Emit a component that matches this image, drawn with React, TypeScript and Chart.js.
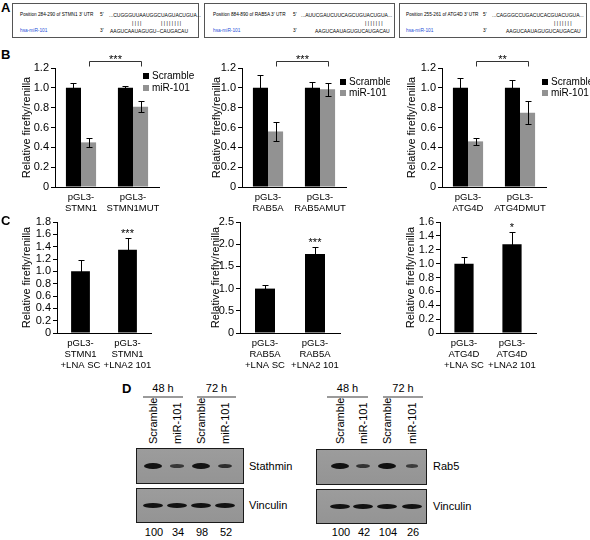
import React, { useEffect, useRef } from 'react';
import { Chart, registerables } from 'chart.js';

Chart.register(...registerables);

const FONT = '"Liberation Sans", Arial, Helvetica, sans-serif';

// ---------- Panel B: reporter assays, Scramble vs miR-101 ----------
const seriesNames = ['Scramble', 'miR-101'];
const seriesColors = ['#000000', '#929292'];

const stmn1Labels = [['pGL3-', 'STMN1'], ['pGL3-', 'STMN1MUT']];
const stmn1Scramble = [1.0, 1.0];
const stmn1ScrambleErr = [0.05, 0.015];
const stmn1Mir = [0.45, 0.81];
const stmn1MirErr = [0.045, 0.055];
const stmn1Sig = '***';

const rab5aLabels = [['pGL3-', 'RAB5A'], ['pGL3-', 'RAB5AMUT']];
const rab5aScramble = [1.0, 1.0];
const rab5aScrambleErr = [0.13, 0.06];
const rab5aMir = [0.56, 0.985];
const rab5aMirErr = [0.10, 0.065];
const rab5aSig = '***';

const atg4dLabels = [['pGL3-', 'ATG4D'], ['pGL3-', 'ATG4DMUT']];
const atg4dScramble = [1.0, 1.0];
const atg4dScrambleErr = [0.10, 0.075];
const atg4dMir = [0.46, 0.75];
const atg4dMirErr = [0.035, 0.115];
const atg4dSig = '**';

const yMaxB = 1.2;
const yStepB = 0.2;

// ---------- Panel C: LNA assays ----------
const stmn1LnaLabels = [['pGL3-', 'STMN1', '+LNA SC'], ['pGL3-', 'STMN1', '+LNA2 101']];
const stmn1Lna = [1.0, 1.35];
const stmn1LnaErr = [0.18, 0.19];
const stmn1LnaSig = '***';
const stmn1LnaMax = 1.8;
const stmn1LnaStep = 0.2;

const rab5aLnaLabels = [['pGL3-', 'RAB5A', '+LNA SC'], ['pGL3-', 'RAB5A', '+LNA2 101']];
const rab5aLna = [1.0, 1.78];
const rab5aLnaErr = [0.08, 0.16];
const rab5aLnaSig = '***';
const rab5aLnaMax = 2.5;
const rab5aLnaStep = 0.5;

const atg4dLnaLabels = [['pGL3-', 'ATG4D', '+LNA SC'], ['pGL3-', 'ATG4D', '+LNA2 101']];
const atg4dLna = [1.0, 1.28];
const atg4dLnaErr = [0.09, 0.18];
const atg4dLnaSig = '*';
const atg4dLnaMax = 1.6;
const atg4dLnaStep = 0.2;

const yTitle = 'Relative firefly/renilla';

// ---------- Panel D: western blots ----------
const laneTimes = ['48 h', '72 h'];
const laneNames = ['Scramble', 'miR-101', 'Scramble', 'miR-101'];
const stathminLevels = [100, 34, 98, 52];
const rab5Levels = [100, 42, 104, 26];

// ---------- Panel A: binding sites ----------
const siteBoxes = [
  {
    title: 'Position 284-290 of STMN1 3\u2032 UTR',
    target: '...CUGGGUUAAUGGCUAGUACUGUA...',
    pairs: [['||||', 120], ['||||||||', 149]],
    mir: 'AAGUCAAUAGUGU--CAUGACAU',
  },
  {
    title: 'Position 884-890 of RAB5A 3\u2032 UTR',
    target: '...AUUCGAUCUUCAGCUGUACUGUA...',
    pairs: [['|||||||', 161]],
    mir: 'AAGUCAAUAGUGUCAUGACAU',
  },
  {
    title: 'Position 255-261 of ATG4D 3\u2032 UTR',
    target: '...CAGGGCCUGACUCACGUACUGUA...',
    pairs: [['|||||||', 155]],
    mir: 'AAGUCAAUAGUGUCAUGACAU',
  },
];
const mirName = 'hsa-miR-101';

type Rect = { left: number; top: number; width: number; height: number };
type Area = { left: number; top: number; right: number; bottom: number };

type Spec = {
  canvas: Rect;
  area: Area;
  padL: number;
  labels: string[][];
  values: number[][];
  errors: number[][];
  names: string[];
  colors: string[];
  yMax: number;
  yStep: number;
  catPct: number;
  bracket?: string;
  star?: string;
  legend?: { x: number; y: number; gap: number };
};

function makePlugin(spec: Spec) {
  return {
    id: 'annot',
    afterDatasetsDraw(chart: any) {
      const { ctx, chartArea } = chart;
      const ys = chart.scales.y;
      ctx.save();
      ctx.strokeStyle = '#000';
      ctx.lineWidth = 1;
      // error bars
      spec.values.forEach((vals, di) => {
        const meta = chart.getDatasetMeta(di);
        meta.data.forEach((el: any, i: number) => {
          const v = vals[i];
          const e = spec.errors[di][i];
          const x = Math.round(el.x) + 0.5;
          const yt = Math.round(ys.getPixelForValue(v + e)) + 0.5;
          const yb = Math.round(ys.getPixelForValue(v - e)) + 0.5;
          ctx.beginPath();
          ctx.moveTo(x, yt);
          ctx.lineTo(x, yb);
          ctx.moveTo(x - 3, yt);
          ctx.lineTo(x + 3, yt);
          ctx.moveTo(x - 3, yb);
          ctx.lineTo(x + 3, yb);
          ctx.stroke();
        });
      });
      ctx.fillStyle = '#000';
      ctx.font = `11px ${FONT}`;
      ctx.textAlign = 'center';
      ctx.textBaseline = 'alphabetic';
      if (spec.bracket) {
        const meta = chart.getDatasetMeta(1);
        const x1 = Math.round(meta.data[0].x) + 0.5;
        const x2 = Math.round(meta.data[1].x) + 0.5;
        const ly = Math.round(chartArea.top - 7) + 0.5;
        ctx.strokeStyle = '#333';
        ctx.beginPath();
        ctx.moveTo(x1, ly + 5);
        ctx.lineTo(x1, ly);
        ctx.lineTo(x2, ly);
        ctx.lineTo(x2, ly + 5);
        ctx.stroke();
        ctx.fillText(spec.bracket, (x1 + x2) / 2, ly + 1);
      }
      if (spec.star) {
        const meta = chart.getDatasetMeta(0);
        const el = meta.data[1];
        const top = ys.getPixelForValue(spec.values[0][1] + spec.errors[0][1]);
        ctx.fillText(spec.star, el.x, top - 1);
      }
      if (spec.legend) {
        const { x, y, gap } = spec.legend;
        ctx.font = `10px ${FONT}`;
        ctx.textAlign = 'left';
        ctx.textBaseline = 'middle';
        spec.names.forEach((n, i) => {
          const cy = y + i * gap;
          ctx.fillStyle = spec.colors[i];
          ctx.fillRect(x, Math.round(cy - 3), 6, 6);
          ctx.fillStyle = '#000';
          ctx.fillText(n, x + 9, cy + 0.5);
        });
      }
      ctx.restore();
    },
  };
}

function BarPanel({ spec }: { spec: Spec }) {
  const ref = useRef<HTMLCanvasElement | null>(null);
  useEffect(() => {
    if (!ref.current) return;
    const { canvas, area, padL } = spec;
    const padTop = area.top - canvas.top;
    const padRight = canvas.left + canvas.width - area.right;
    const yWidth = area.left - canvas.left - padL;
    const xHeight = canvas.top + canvas.height - area.bottom;
    const chart = new Chart(ref.current, {
      type: 'bar',
      data: {
        labels: spec.labels as any,
        datasets: spec.values.map((vals, i) => ({
          label: spec.names[i],
          data: vals,
          backgroundColor: spec.colors[i],
          borderWidth: 0,
          barPercentage: 1,
          categoryPercentage: spec.catPct,
        })),
      },
      options: {
        animation: false,
        responsive: false,
        maintainAspectRatio: false,
        events: [],
        layout: { padding: { left: padL, top: padTop, right: padRight, bottom: 0 } },
        plugins: { legend: { display: false }, tooltip: { enabled: false } },
        scales: {
          x: {
            grid: { display: true, drawOnChartArea: false, drawTicks: false, color: '#000' },
            border: { display: true, color: '#000', width: 1 },
            ticks: {
              color: '#000',
              font: { family: FONT, size: 9.5, lineHeight: 1.15 },
              padding: 5,
              maxRotation: 0,
              minRotation: 0,
              autoSkip: false,
            },
            afterFit: (s: any) => {
              s.height = xHeight;
            },
          },
          y: {
            min: 0,
            max: spec.yMax,
            grid: { display: true, drawOnChartArea: false, drawTicks: true, tickLength: 4, color: '#000' },
            border: { display: true, color: '#000', width: 1 },
            ticks: {
              stepSize: spec.yStep,
              autoSkip: false,
              color: '#000',
              font: { family: FONT, size: 11, lineHeight: 1 },
              padding: 2,
              callback: (v: any) => (Number(v) === 0 ? '0' : Number(v).toFixed(1)),
            },
            title: {
              display: true,
              text: yTitle,
              color: '#000',
              font: { family: FONT, size: 11 },
              padding: { top: 0, bottom: 0 },
            },
            afterFit: (s: any) => {
              s.width = yWidth;
            },
          },
        },
      } as any,
      plugins: [makePlugin(spec) as any],
    });
    return () => chart.destroy();
  }, [spec]);
  const { canvas } = spec;
  return (
    <canvas
      ref={ref}
      width={canvas.width}
      height={canvas.height}
      style={{ position: 'absolute', left: canvas.left, top: canvas.top, width: canvas.width, height: canvas.height }}
    />
  );
}

const specsB: Spec[] = [
  {
    canvas: { left: 0, top: 45, width: 195, height: 175 },
    area: { left: 55, top: 68, right: 159, bottom: 187 },
    padL: 20,
    labels: stmn1Labels,
    values: [stmn1Scramble, stmn1Mir],
    errors: [stmn1ScrambleErr, stmn1MirErr],
    names: seriesNames,
    colors: seriesColors,
    yMax: yMaxB,
    yStep: yStepB,
    catPct: 0.58,
    bracket: stmn1Sig,
    legend: { x: 143, y: 31, gap: 12 },
  },
  {
    canvas: { left: 195, top: 45, width: 195, height: 175 },
    area: { left: 242, top: 68, right: 346, bottom: 187 },
    padL: 15,
    labels: rab5aLabels,
    values: [rab5aScramble, rab5aMir],
    errors: [rab5aScrambleErr, rab5aMirErr],
    names: seriesNames,
    colors: seriesColors,
    yMax: yMaxB,
    yStep: yStepB,
    catPct: 0.58,
    bracket: rab5aSig,
    legend: { x: 145, y: 37, gap: 11 },
  },
  {
    canvas: { left: 390, top: 45, width: 200, height: 175 },
    area: { left: 442, top: 68, right: 546, bottom: 187 },
    padL: 15,
    labels: atg4dLabels,
    values: [atg4dScramble, atg4dMir],
    errors: [atg4dScrambleErr, atg4dMirErr],
    names: seriesNames,
    colors: seriesColors,
    yMax: yMaxB,
    yStep: yStepB,
    catPct: 0.58,
    bracket: atg4dSig,
    legend: { x: 152, y: 37, gap: 11 },
  },
];

const specsC: Spec[] = [
  {
    canvas: { left: 0, top: 212, width: 195, height: 165 },
    area: { left: 57, top: 222, right: 151, bottom: 333 },
    padL: 20,
    labels: stmn1LnaLabels,
    values: [stmn1Lna],
    errors: [stmn1LnaErr],
    names: [],
    colors: ['#000000'],
    yMax: stmn1LnaMax,
    yStep: stmn1LnaStep,
    catPct: 0.4,
    star: stmn1LnaSig,
  },
  {
    canvas: { left: 195, top: 212, width: 195, height: 165 },
    area: { left: 240, top: 222, right: 340, bottom: 333 },
    padL: 14,
    labels: rab5aLnaLabels,
    values: [rab5aLna],
    errors: [rab5aLnaErr],
    names: [],
    colors: ['#000000'],
    yMax: rab5aLnaMax,
    yStep: rab5aLnaStep,
    catPct: 0.4,
    star: rab5aLnaSig,
  },
  {
    canvas: { left: 390, top: 212, width: 200, height: 165 },
    area: { left: 440, top: 222, right: 536, bottom: 333 },
    padL: 14,
    labels: atg4dLnaLabels,
    values: [atg4dLna],
    errors: [atg4dLnaErr],
    names: [],
    colors: ['#000000'],
    yMax: atg4dLnaMax,
    yStep: atg4dLnaStep,
    catPct: 0.4,
    star: atg4dLnaSig,
  },
];

function Txt({ x, y, size, children, align = 'left', color = '#000', bold = false, w = 40 }: any) {
  const lh = Math.round(size * 1.2);
  const style: any = {
    position: 'absolute',
    top: y - lh / 2,
    fontSize: size,
    lineHeight: lh + 'px',
    color,
    whiteSpace: 'pre',
    fontWeight: bold ? 'bold' : 'normal',
  };
  if (align === 'center') {
    style.left = x - w / 2;
    style.width = w;
    style.textAlign = 'center';
  } else {
    style.left = x;
  }
  return <div style={style}>{children}</div>;
}

const boxLefts = [12, 204, 399];
const boxWidths = [187, 191, 188];
const boxRel = [
  { title: 8, five: 88, target: 97, mir: 98 },
  { title: 9, five: 89, target: 97, mir: 111 },
  { title: 7, five: 84, target: 93, mir: 107 },
];

function PanelA() {
  return (
    <>
      {siteBoxes.map((b, i) => {
        const L = boxLefts[i];
        const r = boxRel[i];
        return (
          <div key={i}>
            <div
              style={{
                position: 'absolute',
                left: L,
                top: 3,
                width: boxWidths[i],
                height: 35,
                border: '1px solid #555',
                boxSizing: 'border-box',
              }}
            />
            <Txt x={L + r.title} y={15} size={4.7}>{b.title}</Txt>
            <Txt x={L + r.five} y={15} size={4.8}>{'5\u2032'}</Txt>
            <Txt x={L + r.target} y={15} size={5}>{b.target}</Txt>
            {b.pairs.map((p, k) => (
              <Txt key={k} x={L + (p[1] as number)} y={23} size={5}>{(p[0] as string).split('').join(' ')}</Txt>
            ))}
            <Txt x={L + r.title} y={31} size={4.8} color="#2b4fd8">{mirName}</Txt>
            <Txt x={L + r.five} y={31} size={4.8}>{'3\u2032'}</Txt>
            <Txt x={L + r.mir} y={31} size={5}>{b.mir}</Txt>
          </div>
        );
      })}
    </>
  );
}

function Band({ cx, cy, w, h, alpha }: any) {
  return (
    <div
      style={{
        position: 'absolute',
        left: cx - w / 2,
        top: cy - h / 2,
        width: w,
        height: h,
        borderRadius: '50%',
        background: `rgba(10,10,10,${alpha})`,
        filter: 'blur(0.7px)',
      }}
    />
  );
}

function Blot({ left, top, width, height, lanes, bandY, levels, fixed }: any) {
  return (
    <>
      <div
        style={{
          position: 'absolute',
          left,
          top,
          width,
          height,
          background: 'linear-gradient(180deg, #9c9c9c, #949494)',
          border: '1.5px solid #1a1a1a',
          boxSizing: 'border-box',
        }}
      />
      {lanes.map((cx: number, i: number) => {
        const lv = fixed ? 100 : levels[i];
        const f = Math.min(lv, 105) / 100;
        const w = fixed ? 20 : 11 + 7 * f;
        const h = fixed ? 5 : 2.2 + 4 * f;
        return <Band key={i} cx={cx} cy={bandY} w={w} h={h} alpha={fixed ? 0.95 : 0.55 + 0.4 * f} />;
      })}
    </>
  );
}

function LaneHeader({ lanes, groups }: any) {
  return (
    <>
      {groups.map((g: any, i: number) => (
        <div key={'g' + i}>
          <Txt x={(g.x1 + g.x2) / 2} y={388} size={11} align="center">{laneTimes[i]}</Txt>
          <div style={{ position: 'absolute', left: g.x1, top: 396, width: g.x2 - g.x1, height: 1.5, background: '#9a9a9a' }} />
        </div>
      ))}
      {lanes.map((cx: number, i: number) => (
        <div
          key={i}
          style={{
            position: 'absolute',
            left: cx - 6,
            top: 444,
            fontSize: 11,
            lineHeight: '12px',
            whiteSpace: 'pre',
            transform: 'rotate(-90deg)',
            transformOrigin: 'left top',
          }}
        >
          {laneNames[i]}
        </div>
      ))}
    </>
  );
}

function PanelD() {
  const lanesL = [153, 177, 201, 225];
  const lanesR = [340, 363, 387, 412];
  return (
    <>
      <Txt x={122} y={389} size={13} bold>D</Txt>
      <LaneHeader lanes={lanesL} groups={[{ x1: 143, x2: 183 }, { x1: 197, x2: 236 }]} />
      <LaneHeader lanes={lanesR} groups={[{ x1: 327, x2: 368 }, { x1: 383, x2: 423 }]} />
      <Blot left={136} top={448} width={108} height={36} lanes={lanesL} bandY={466} levels={stathminLevels} />
      <Blot left={136} top={488} width={108} height={35} lanes={lanesL} bandY={505} fixed />
      <Blot left={316} top={449} width={111} height={36} lanes={lanesR} bandY={466} levels={rab5Levels} />
      <Blot left={316} top={489} width={111} height={35} lanes={lanesR} bandY={506} fixed />
      <Txt x={249} y={466} size={11}>Stathmin</Txt>
      <Txt x={249} y={505} size={11}>Vinculin</Txt>
      <Txt x={433} y={466} size={11}>Rab5</Txt>
      <Txt x={433} y={506} size={11}>Vinculin</Txt>
      {lanesL.map((cx, i) => (
        <Txt key={'nl' + i} x={cx + 1} y={532} size={11} align="center" w={22}>{String(stathminLevels[i])}</Txt>
      ))}
      {lanesR.map((cx, i) => (
        <Txt key={'nr' + i} x={cx + 1} y={532} size={11} align="center" w={22}>{String(rab5Levels[i])}</Txt>
      ))}
    </>
  );
}

export default function App() {
  return (
    <div
      style={{
        position: 'fixed',
        left: 0,
        top: 0,
        width: 590,
        height: 540,
        background: '#fff',
        overflow: 'hidden',
        fontFamily: FONT,
        color: '#000',
      }}
    >
      <Txt x={1} y={8} size={13} bold>A</Txt>
      <PanelA />
      <Txt x={1} y={55} size={13} bold>B</Txt>
      {specsB.map((s, i) => (
        <BarPanel key={'b' + i} spec={s} />
      ))}
      <Txt x={1} y={221} size={13} bold>C</Txt>
      {specsC.map((s, i) => (
        <BarPanel key={'c' + i} spec={s} />
      ))}
      <PanelD />
    </div>
  );
}
